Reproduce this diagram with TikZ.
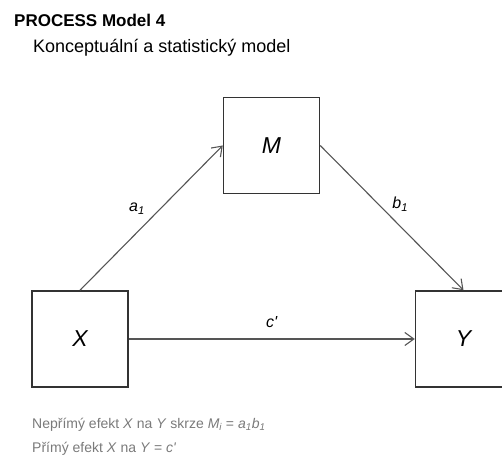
\documentclass[tikz,border=0pt]{standalone}
\usepackage{fontspec}
\setmainfont{Liberation Sans}
\usetikzlibrary{arrows.meta,positioning}
\definecolor{boxline}{HTML}{333333}
\definecolor{arrline}{HTML}{555555}
\definecolor{notegray}{HTML}{7A7A7A}
\tikzset{%
varbox/.style={rectangle, draw=boxline, line width=1.5pt, minimum size=96pt, inner sep=0pt, font=\fontsize{23}{26}\selectfont\itshape},
pt/.style={draw=arrline, line width=1.1pt, -{Straight Barb[length=9pt,width=13pt]}},
lbl/.style={font=\fontsize{16}{19}\selectfont\itshape, inner sep=0pt}
}

\begin{document}
\begin{tikzpicture}[x=1pt, y=1pt]
		\useasboundingbox (0,0) rectangle (502,470);
		\clip (0,0) rectangle (502,470);
		% titles
		\node[anchor=west, inner sep=0pt, font=\fontsize{17}{20}\selectfont\bfseries] (title) at (14,450) {PROCESS Model 4};
		\node[anchor=west, inner sep=0pt, font=\fontsize{18}{22}\selectfont] (subtitle) at (33,422) {Konceptuální a statistický model};

		\node[varbox] (X) at (80,131) {X};
		\node[varbox] (M) [above right=96pt and 94pt of X] {M};
		\node[varbox] (Y) [right=286pt of X] {Y};

		\draw[pt] (X.north) -- node [lbl, above left=3pt and 6pt] {a\textsubscript{1}} (M.west);
		\draw[pt] (M.east) -- node [lbl, above right=6pt and 0pt] {b\textsubscript{1}} (Y.north);
		\draw[pt] (X.east) -- node [lbl, above=11pt] {c\textquotesingle} (Y.west);

		% effects
		\node[anchor=west, inner sep=0pt, align=left, text=notegray, font=\fontsize{14}{24}\selectfont] (note) at (32,33)
			{Nepřímý efekt \textit{X} na \textit{Y} skrze \textit{M\textsubscript{i}} = \textit{a\textsubscript{1}b\textsubscript{1}}\\
			 Přímý efekt \textit{X} na \textit{Y} = \textit{c\textquotesingle}};
	\end{tikzpicture}
\end{document}
